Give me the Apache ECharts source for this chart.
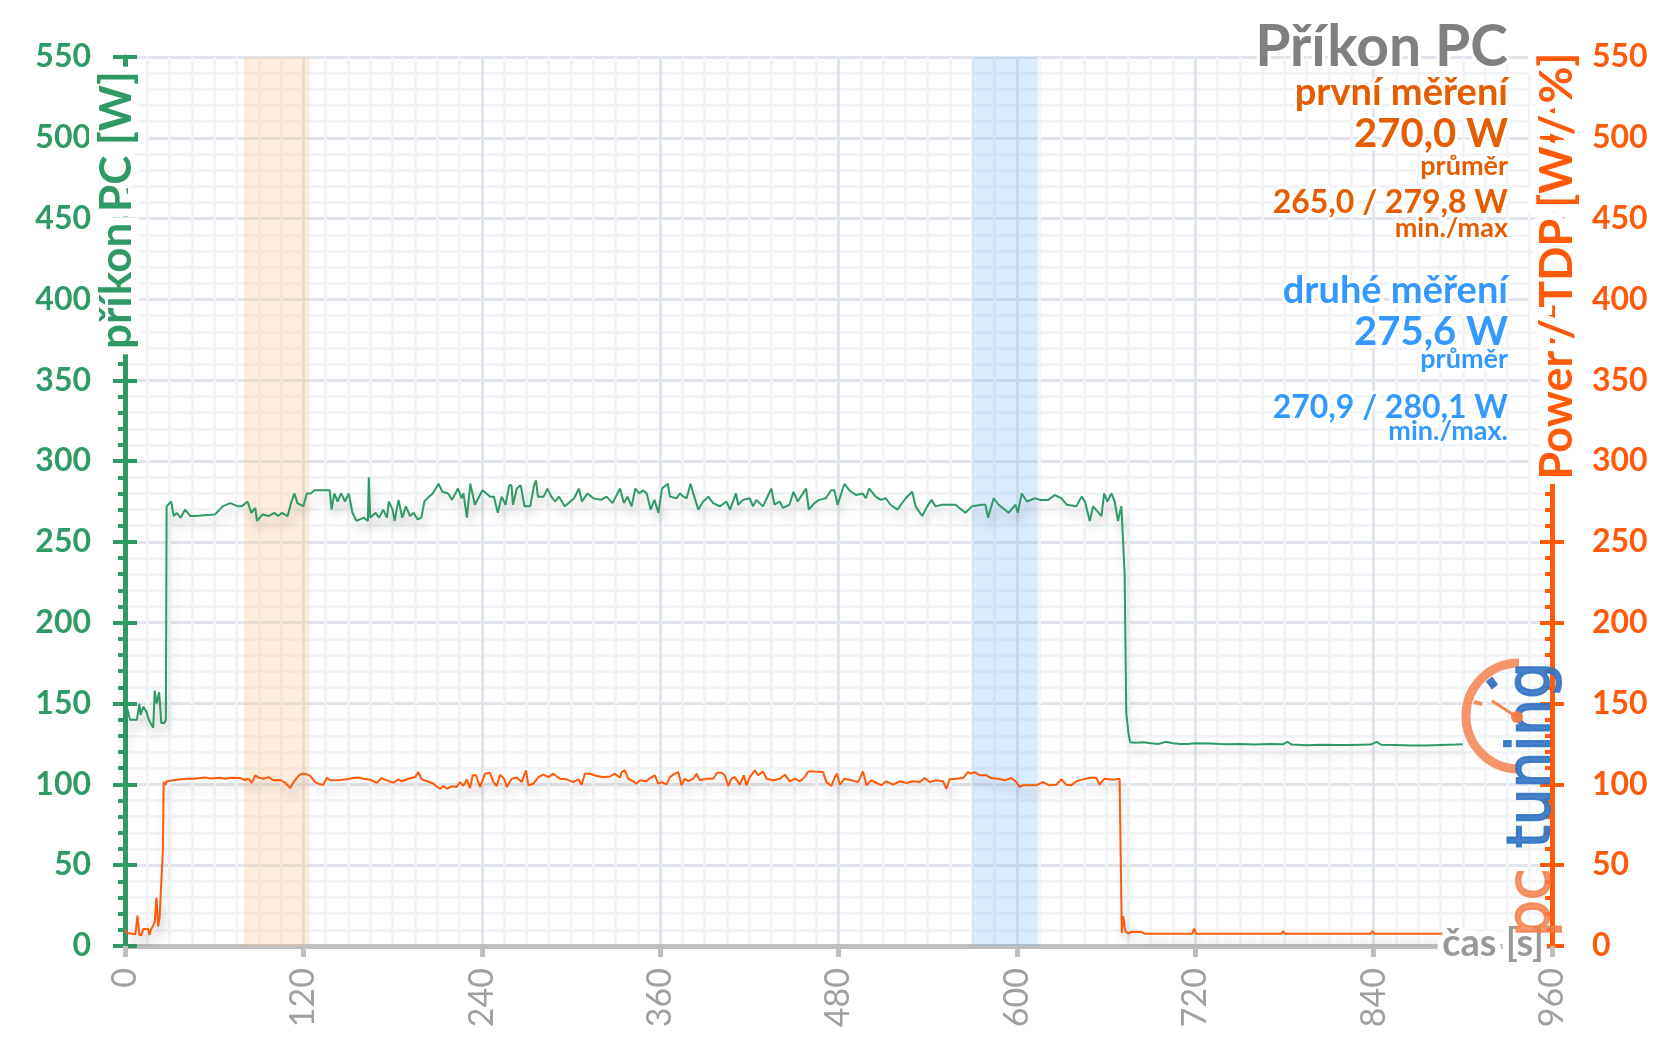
<!DOCTYPE html>
<html><head><meta charset="utf-8">
<script src="https://cdn.jsdelivr.net/npm/echarts@6/dist/echarts.min.js"></script>
<style>html,body{margin:0;padding:0;background:#fff}#c{width:1657px;height:1044px}</style>
</head><body><div id="c"></div><script>
// time [s], PC power [W]
const pcPower = [
[0,125],[1,126],[1.5,147],[3.4,140],[6.6,140],[8,140],[9.7,150],[10.5,143],[12.3,148],[14.4,145],[16,140],[19,135],[20,158],[21.3,150],[23,157],[24.4,138],[26.4,138],[27.5,140],
[28,272],[31,275],[32.8,266],[34.8,268],[37.4,265],[40.5,270],[43.9,266],[46.4,266],[60.6,267],[65.7,272],[70.8,274],[76,272],[78.6,272],[82.4,275],[85,268],[87.6,271],[88.8,263],[92.7,267],[96.6,266],[100.4,268],[103,266],[105.6,268],[109.4,266],
[112,275],[114,280],[116,274],[120,272],[122.3,280],[125,280],[127.4,282],[137.7,282],[139,270],[140.8,280],[143,275],[145.4,280],[148,275],[150.5,280],[153,268],[155.7,263],[160.8,265],[163.4,263],[164,290],[165,265],[168.5,268],[171,265],[173.7,270],[176.2,265],[177.5,275],[180,270],[181.4,263],[184,276],[186.5,265],[189,272],[191.7,266],[194.2,268],[196.8,264],[199.4,265],
[201.4,275],[204.5,278],[207,280],[211,286],[213.5,281],[217.4,280],[220,276],[224,283],[226.4,277],[227.7,280],[230,265],[232.3,286],[235.4,273],[240.5,282],[245.7,278],[248.2,278],[250.8,268],[253.4,278],[256,273],[258.5,285],[260,285],[261,273],[263.6,283],[266.2,285],[268.8,272],[272.6,272],[275.2,285],[276.5,288],[277.8,278],[281.6,278],[284.2,283],[286.8,278],[289.4,275],[292,278],[295.8,272],[298.4,274],
[302.2,277],[305.3,283],[307.4,275],[311.2,280],[315,277],[320.2,276],[324,278],[328,274],[333,283],[335.6,274],[338,278],[340.8,272],[343.3,283],[346,280],[348.5,282],[351,280],[353.6,270],[356.2,276],[358.8,268],[361.3,283],[365.2,286],[366.6,278],[371,277],[373.4,280],[375.6,278],[377.8,277],[380.5,286],[382.3,280],[385.7,270],[389,275],[392.4,278],[395.7,274],
[400.2,272],[404.6,275],[407,270],[411,280],[412.5,273],[415.8,276],[420.3,277],[422.5,272],[424.7,276],[429.2,272],[434.8,283],[437,273],[440.4,275],[442.6,271],[447,273],[449.7,281],[452.6,275],[456,280],[458.2,283],[460,270],[463.8,274],[467,276],[471.6,277],[475,282],[477.2,282],[479.4,273],[484,286],[487.2,282],[491.7,279],[496.2,280],[498.4,277],
[500.6,283],[505,278],[508.4,276],[511.8,277],[515,273],[519.6,270],[525.2,277],[529.6,281],[531.9,272],[536.3,266],[539.7,272],[542.6,276],[545.3,272],[549.7,273],[554.2,273],[558.7,273],[565.4,268],[569.8,272],[576.5,273],[578.8,273],[580.6,265],[584.4,277],[587.7,273],[594.4,268],[599,273],
[600.6,268],[603.3,280],[606.7,275],[612.2,277],[615.6,276],[621.2,276],[625.6,279],[630,277],[633.5,273],[640,272],[643.5,278],[645.8,275],[649,263],[651.3,272],[656.9,266],[658.7,280],[660.9,275],[663.6,280],[665.8,275],[668,263],[670.3,272],[671.4,272],[672.5,230],[673.6,144],[675,132],[676.2,126],
[680,125.8],[685,126],[690,125.5],[695,125],[700,126.3],[705,125.4],[710,125],[715,124.9],[720,125.5],[730,125.3],[740,124.8],[750,125],[760,124.6],[770,124.9],[779,124.8],[782,126.3],[785,124.6],[795,124.2],[805,124.5],[815,124.3],[825,124.4],[838,124.6],[842,126.3],[845,124.5],[855,124.4],[865,124],[875,124],[885,124.4],[895,124.6],[900,124.8]
];
// time [s], Power / TDP [W / %]
const tdpPower = [
[0,10],[0.7,10],[1.5,8],[2.7,7.2],[7,7.2],[8.4,18.8],[9.7,6.8],[11.2,6.8],[12.2,10.5],[15.6,10.5],[16.4,6.8],[17.6,10.5],[18.7,12],[20,15],[21.2,30],[22.3,12],[23.3,18],[24.5,17],[25.5,60],[26,101.4],[27,99.8],[28.2,101.9],[30.4,102.3],[35,102.9],[41.6,103.5],[46,103.5],[50.6,103.9],[54,104.3],[57.4,103.7],[64,104.1],[67.4,103.5],[70.8,104.1],[77.5,103.9],[80.8,102.7],[83,103.5],[85.3,101],[87.6,105.6],[89.8,104.3],[93.2,103.5],[96.5,104.5],[99.9,102.5],
[104.4,102.7],[107.7,101],[111.2,97.7],[113.4,101.4],[116.7,105.2],[119,106.6],[121.2,106.6],[124.6,105.2],[127.9,101.4],[131.3,100],[133.5,99.8],[135.8,104.1],[138,102.5],[144.7,102.7],[149.2,103.1],[153.7,103.9],[157,104.3],[160.4,103.5],[164.9,102.9],[169.4,101],[172.7,103.9],[176,102.5],[180.6,101],[183.9,103.1],[186.2,101.9],[190.7,103.5],[195.2,104.5],[197.4,107.6],[199.6,103.1],
[203,102.1],[207.5,100.4],[211.9,97.3],[214.2,99],[216.4,97.3],[219.8,98.8],[223.1,98.4],[225.4,101.4],[227.6,99],[229.9,103.1],[232.1,97.7],[233.9,105.6],[236.1,105.6],[238.9,98.4],[242.2,106.6],[245.6,107.2],[247.8,101.4],[250.1,99],[252.3,106],[255,103.5],[256.8,98.4],[260.2,103.5],[263.5,104.3],[266.9,101.4],[269.8,108.7],[271.3,99.4],[274.7,100.4],[278.1,104.5],[281.4,106],[284.8,104.5],[288.1,106.6],[292.6,103.5],[297.1,103.1],
[301.6,101.4],[305,103.1],[307.2,99.8],[309.4,106.6],[312.8,106.6],[317.3,105.2],[321.8,104.5],[326.3,104.9],[329.6,106.6],[333,104.1],[334.1,107.6],[336.3,108.7],[338.5,103.5],[341.9,101.9],[344.2,100.4],[346.4,102.5],[350.9,101.9],[353.1,103.9],[356.5,105.6],[358.7,100.4],[361,101.4],[364.3,100],[366.6,104.5],[368.8,106],[372.2,107.6],[374.4,99.4],[376.6,103.5],[378.9,101.9],[382.2,103.5],[384.5,106.6],[386.7,102.5],[391.2,103.5],[395.7,103.5],[398.4,107.2],
[401.3,107.2],[403.5,105.6],[405.8,99],[408,103.5],[410.3,104.5],[413.6,99.8],[416.3,105.6],[418.1,99.4],[420.3,104.5],[423.7,108.7],[425.9,105.6],[429.3,108],[431.6,103.5],[436,102.5],[440.5,103.5],[443.9,106],[447.2,101.9],[450.6,103.5],[454,101.9],[457.3,104.5],[459.6,108],[462.9,108],[469.6,107.6],[471.9,101.4],[475.2,99],[477.5,104.5],[479.1,106.6],[480.8,99.8],[484.2,103.5],[488.7,102.5],[493.2,101.4],[496.5,108],[498.8,99.4],
[502.1,102.5],[505.5,101],[508.9,99.4],[512.2,101.9],[516.7,99.8],[521.2,101.9],[525.7,100.8],[530.1,101.9],[534.6,101.4],[538,103.9],[541.4,101.4],[545.8,102.5],[550.3,101.9],[552.6,97.3],[554.8,103.1],[559.3,103.5],[563.8,103.9],[567.1,107.6],[569.4,106.6],[571.6,107.6],[575,105.6],[579.5,105.6],[582.8,103.9],[587.3,103.5],[591.8,102.5],[596.3,103.9],[599.6,101.4],
[601.9,98.4],[604.1,99.4],[608.6,99.4],[613.1,99.4],[617.5,101.4],[622,99.4],[626.5,99.8],[629.9,103.1],[633.2,99.8],[636.6,99.4],[640,101.9],[644.4,103.1],[648.9,104.1],[653.4,104.1],[655.6,99.8],[659,103.5],[664.6,102.9],[669.1,103.5],[670,102.5],[670.6,8],[671.5,18.5],[673,9],[675,7.8],[677.5,8.8],[684,8.6],[686,7.6],[718,7.6],[719.2,10.7],[720.5,7.6],[778,7.6],[779.2,9.3],[780.5,7.6],[838,7.6],[839.2,9.3],[840.5,7.6],[900,7.6]
];
// highlighted averaging windows [s]
const firstWindow = [80, 124];
const secondWindow = [570, 614];
// text block
const titleText = 'Příkon PC';
const firstLines = ['první měření', '270,0 W', 'průměr', '265,0 / 279,8 W', 'min./max'];
const secondLines = ['druhé měření', '275,6 W', 'průměr', '270,9 / 280,1 W', 'min./max.'];
const leftName = 'příkon PC [W]';
const rightName = 'Power / TDP [W / %]';
const xName = 'čas [s]';

const GREEN = '#2f9a66', ORANGE = '#ff5a0a', ORANGE_T = '#e65c00', BLUE = '#3399ff';
const MAJOR = '#e1e5ec', MINOR = '#f2f4f7';

const chart = echarts.init(document.getElementById('c'), null, {renderer: 'canvas'});

function yBase(pos) {
  return {type: 'value', position: pos, min: 0, max: 550, interval: 50};
}
// text with white halo: white stroked copy below, plain fill on top
function haloText(el, haloWidth, glow) {
  const bg = JSON.parse(JSON.stringify(el));
  if (el.rotation) bg.rotation = el.rotation;
  bg.z = 98;
  bg.style.fill = '#fff';
  bg.style.stroke = '#fff';
  bg.style.lineWidth = haloWidth || 7;
  if (glow) { bg.style.shadowColor = '#fff'; bg.style.shadowBlur = glow; }
  el.z = 100;
  return [bg, el];
}
function txt(text, y, size, color) {
  return haloText({type: 'text', x: 1508, y: y,
    style: {text: text, align: 'right', verticalAlign: 'middle',
      font: 'bold ' + size + 'px Lato', fill: color}}, 6);
}
const lineShadow = {shadowColor: 'rgba(0,0,0,0.22)', shadowBlur: 10, shadowOffsetX: 3, shadowOffsetY: 8};

const graphics = [].concat(
  txt(titleText, 48, 57, '#808080'),
  txt(firstLines[0], 93, 38, ORANGE_T),
  txt(firstLines[1], 134, 40, ORANGE_T),
  txt(firstLines[2], 166, 27, ORANGE_T),
  txt(firstLines[3], 203, 32, ORANGE_T),
  txt(firstLines[4], 228, 27, ORANGE_T),
  txt(secondLines[0], 291, 38, BLUE),
  txt(secondLines[1], 332, 40, BLUE),
  txt(secondLines[2], 359, 27, BLUE),
  txt(secondLines[3], 408, 32, BLUE),
  txt(secondLines[4], 431, 27, BLUE),
  haloText({type: 'text', x: 117, y: 210, rotation: Math.PI / 2,
    style: {text: leftName, align: 'center', verticalAlign: 'middle', font: 'bold 44px Lato', fill: GREEN}}, 16, 10),
  haloText({type: 'text', x: 1557, y: 266, rotation: Math.PI / 2,
    style: {text: rightName, align: 'center', verticalAlign: 'middle', font: 'bold 45px Lato', fill: ORANGE}}, 16, 10),
  haloText({type: 'text', x: 1544, y: 944,
    style: {text: xName, align: 'right', verticalAlign: 'middle', font: 'bold 38px Lato', fill: '#999999'}}, 12, 6),
  [
    // pctuning watermark
    {type: 'arc', z: 110, shape: {cx: 1519, cy: 716, r: 53, startAngle: Math.PI / 2, endAngle: Math.PI * 1.5, clockwise: true},
      style: {stroke: 'rgba(244,130,80,0.85)', lineWidth: 9, fill: null}},
    {type: 'line', z: 111, shape: {x1: 1495, y1: 687, x2: 1489, y2: 679}, style: {stroke: '#3d78c4', lineWidth: 8}},
    {type: 'line', z: 111, shape: {x1: 1474, y1: 702, x2: 1482, y2: 704}, style: {stroke: 'rgba(244,130,80,0.9)', lineWidth: 4}},
    {type: 'line', z: 111, shape: {x1: 1517, y1: 717, x2: 1492, y2: 701}, style: {stroke: 'rgba(244,125,70,0.95)', lineWidth: 3}},
    {type: 'circle', z: 111, shape: {cx: 1517, cy: 717, r: 6}, style: {fill: 'rgba(244,125,70,0.95)'}},
    {type: 'text', z: 110, x: 1534, y: 848, rotation: Math.PI / 2,
      style: {text: 'tuning', align: 'left', verticalAlign: 'middle', font: '58px "DejaVu Sans"', fill: 'rgba(50,115,195,0.9)', stroke: 'rgba(50,115,195,0.9)', lineWidth: 2}},
    {type: 'text', z: 110, x: 1534, y: 937, rotation: Math.PI / 2,
      style: {text: 'pc', align: 'left', verticalAlign: 'middle', font: '58px "DejaVu Sans"', fill: 'rgba(244,125,70,0.8)', stroke: 'rgba(244,125,70,0.8)', lineWidth: 2}}
  ]
);

const option = {
  backgroundColor: '#fff',
  animation: false,
  grid: {left: 125, right: 105, top: 57, bottom: 98},
  xAxis: {
    type: 'value', min: 0, max: 960, interval: 120,
    axisLine: {show: true, onZero: false, lineStyle: {color: '#bfbfbf', width: 5}},
    axisTick: {show: true, length: 11, lineStyle: {color: '#bfbfbf', width: 5}},
    axisLabel: {rotate: 90, margin: 22, color: '#a0a0a0', fontFamily: 'Lato', fontSize: 34},
    splitLine: {show: true, lineStyle: {color: MAJOR, width: 3}},
    minorTick: {show: true, splitNumber: 8, length: 0, lineStyle: {width: 0}},
    minorSplitLine: {show: true, lineStyle: {color: MINOR, width: 3}}
  },
  yAxis: [
    Object.assign(yBase('left'), {
      axisLine: {show: true, lineStyle: {color: GREEN, width: 5}},
      axisTick: {show: true, length: 12, lineStyle: {color: GREEN, width: 4}},
      minorTick: {show: true, splitNumber: 5, length: 7, lineStyle: {color: GREEN, width: 4}},
      axisLabel: {color: GREEN, fontFamily: 'Lato', fontWeight: 'bold', fontSize: 32, margin: 34},
      splitLine: {show: true, lineStyle: {color: MAJOR, width: 3}},
      minorSplitLine: {show: true, lineStyle: {color: MINOR, width: 3}}
    }),
    Object.assign(yBase('right'), {
      axisLine: {show: true, lineStyle: {color: ORANGE, width: 5}},
      axisTick: {show: true, inside: true, length: 12, lineStyle: {color: ORANGE, width: 4}},
      minorTick: {show: true, splitNumber: 5, length: 7, lineStyle: {color: ORANGE, width: 4}},
      axisLabel: {color: ORANGE, fontFamily: 'Lato', fontWeight: 'bold', fontSize: 32, margin: 40},
      splitLine: {show: false}
    }),
    Object.assign(yBase('left'), {
      axisLine: {show: false}, axisLabel: {show: false}, splitLine: {show: false},
      axisTick: {show: true, inside: true, length: 12, lineStyle: {color: GREEN, width: 4}}
    }),
    Object.assign(yBase('right'), {
      axisLine: {show: false}, axisLabel: {show: false}, splitLine: {show: false},
      axisTick: {show: true, inside: false, length: 12, lineStyle: {color: ORANGE, width: 4}}
    })
  ],
  series: [
    {
      type: 'line', yAxisIndex: 1, data: tdpPower, showSymbol: false, z: 3,
      lineStyle: Object.assign({color: ORANGE, width: 2}, lineShadow),
      itemStyle: {color: ORANGE},
      markArea: {silent: true, data: [
        [{xAxis: firstWindow[0], itemStyle: {color: 'rgba(250,200,150,0.32)'}}, {xAxis: firstWindow[1]}],
        [{xAxis: secondWindow[0], itemStyle: {color: 'rgba(120,180,245,0.27)'}}, {xAxis: secondWindow[1]}]
      ]}
    },
    {
      type: 'line', yAxisIndex: 0, data: pcPower, showSymbol: false, z: 4,
      lineStyle: Object.assign({color: GREEN, width: 2}, lineShadow),
      itemStyle: {color: GREEN}
    }
  ],
  graphic: graphics
};
chart.setOption(option);
</script></body></html>
